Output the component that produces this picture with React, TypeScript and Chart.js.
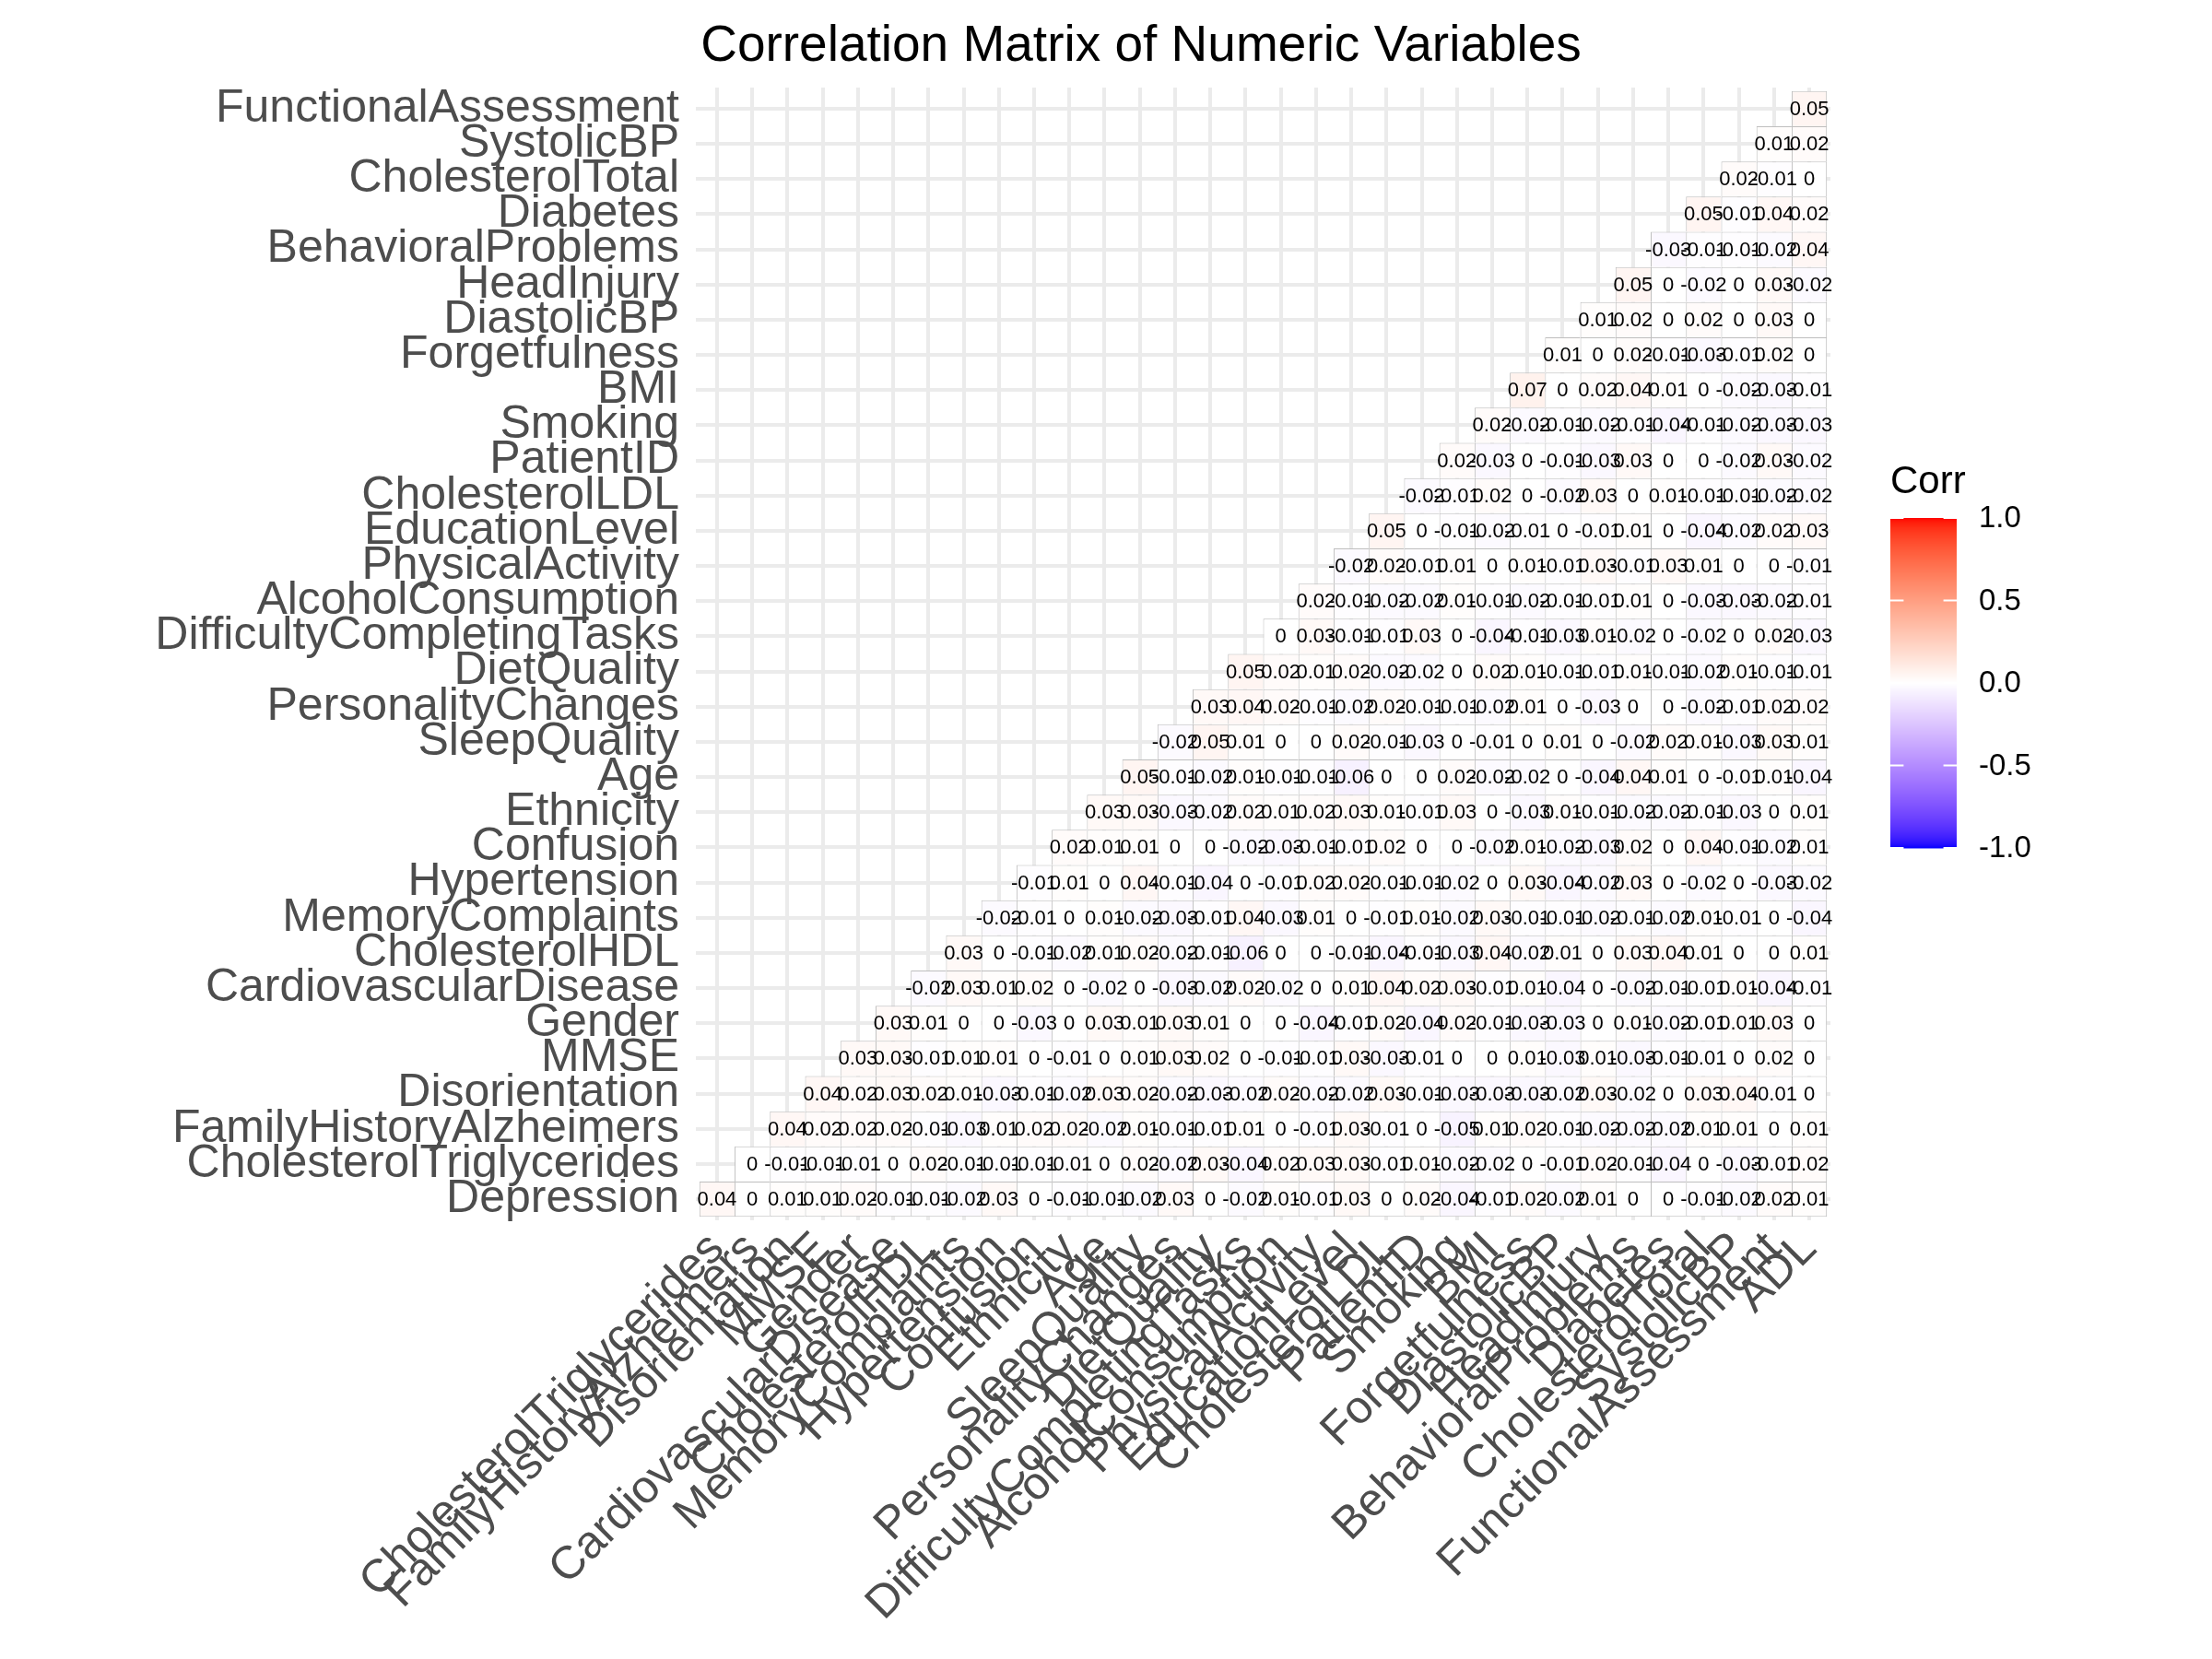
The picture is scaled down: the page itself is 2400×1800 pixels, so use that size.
import React, { useEffect, useRef } from "react";
import { Chart, registerables } from "chart.js";

Chart.register(...registerables);

const chartTitle = "Correlation Matrix of Numeric Variables";
const legendTitle = "Corr";

// y categories, bottom to top
const yLabels = [
  "Depression", "CholesterolTriglycerides", "FamilyHistoryAlzheimers", "Disorientation",
  "MMSE", "Gender", "CardiovascularDisease", "CholesterolHDL", "MemoryComplaints",
  "Hypertension", "Confusion", "Ethnicity", "Age", "SleepQuality", "PersonalityChanges",
  "DietQuality", "DifficultyCompletingTasks", "AlcoholConsumption", "PhysicalActivity",
  "EducationLevel", "CholesterolLDL", "PatientID", "Smoking", "BMI", "Forgetfulness",
  "DiastolicBP", "HeadInjury", "BehavioralProblems", "Diabetes", "CholesterolTotal",
  "SystolicBP", "FunctionalAssessment",
];

// x categories, left to right
const xLabels = [
  "CholesterolTriglycerides", "FamilyHistoryAlzheimers", "Disorientation", "MMSE", "Gender",
  "CardiovascularDisease", "CholesterolHDL", "MemoryComplaints", "Hypertension", "Confusion",
  "Ethnicity", "Age", "SleepQuality", "PersonalityChanges", "DietQuality",
  "DifficultyCompletingTasks", "AlcoholConsumption", "PhysicalActivity", "EducationLevel",
  "CholesterolLDL", "PatientID", "Smoking", "BMI", "Forgetfulness", "DiastolicBP",
  "HeadInjury", "BehavioralProblems", "Diabetes", "CholesterolTotal", "SystolicBP",
  "FunctionalAssessment", "ADL",
];

// each row starts at the x column with the same index as the row
const rowDepression = [0.04, 0, 0.01, 0.01, 0.02, -0.01, -0.01, -0.02, 0.03, 0, -0.01, -0.01, -0.02, 0.03, 0, -0.02, 0.01, -0.01, 0.03, 0, 0.02, -0.04, -0.01, 0.02, -0.02, 0.01, 0, 0, -0.01, -0.02, 0.02, 0.01];
const rowCholesterolTriglycerides = [0, -0.01, -0.01, -0.01, 0, 0.02, -0.01, -0.01, -0.01, -0.01, 0, 0.02, -0.02, 0.03, -0.04, 0.02, 0.03, 0.03, -0.01, 0.01, -0.02, -0.02, 0, -0.01, 0.02, -0.01, -0.04, 0, -0.03, -0.01, 0.02];
const rowFamilyHistoryAlzheimers = [0.04, 0.02, 0.02, 0.02, -0.01, -0.03, 0.01, 0.02, 0.02, -0.02, 0.01, -0.01, -0.01, 0.01, 0, -0.01, 0.03, -0.01, 0, -0.05, 0.01, 0.02, -0.01, -0.02, -0.02, -0.02, 0.01, 0.01, 0, 0.01];
const rowDisorientation = [0.04, 0.02, 0.03, 0.02, 0.01, -0.03, -0.01, -0.02, 0.03, 0.02, -0.02, -0.03, -0.02, 0.02, -0.02, -0.02, 0.03, -0.01, -0.03, -0.03, -0.03, -0.02, 0.03, -0.02, 0, 0.03, 0.04, -0.01, 0];
const rowMMSE = [0.03, 0.03, -0.01, 0.01, 0.01, 0, -0.01, 0, 0.01, 0.03, 0.02, 0, -0.01, -0.01, 0.03, -0.03, -0.01, 0, 0, 0.01, -0.03, 0.01, -0.03, -0.01, -0.01, 0, 0.02, 0];
const rowGender = [0.03, 0.01, 0, 0, -0.03, 0, 0.03, 0.01, 0.03, 0.01, 0, 0, -0.04, -0.01, 0.02, -0.04, 0.02, -0.01, -0.03, -0.03, 0, 0.01, -0.02, -0.01, 0.01, 0.03, 0];
const rowCardiovascularDisease = [-0.02, 0.03, 0.01, 0.02, 0, -0.02, 0, -0.03, -0.02, 0.02, -0.02, 0, 0.01, 0.04, 0.02, 0.03, -0.01, 0.01, -0.04, 0, -0.02, -0.01, -0.01, 0.01, -0.04, -0.01];
const rowCholesterolHDL = [0.03, 0, -0.01, -0.02, 0.01, 0.02, -0.02, -0.01, -0.06, 0, 0, -0.01, -0.04, -0.01, -0.03, 0.04, -0.02, 0.01, 0, 0.03, 0.04, 0.01, 0, 0, 0.01];
const rowMemoryComplaints = [-0.02, -0.01, 0, 0.01, -0.02, -0.03, -0.01, 0.04, -0.03, 0.01, 0, -0.01, 0.01, -0.02, 0.03, -0.01, -0.01, -0.02, -0.01, -0.02, 0.01, -0.01, 0, -0.04];
const rowHypertension = [-0.01, 0.01, 0, 0.04, -0.01, -0.04, 0, -0.01, 0.02, 0.02, -0.01, -0.01, -0.02, 0, 0.03, -0.04, -0.02, 0.03, 0, -0.02, 0, -0.03, -0.02];
const rowConfusion = [0.02, 0.01, 0.01, 0, 0, -0.02, -0.03, -0.01, -0.01, 0.02, 0, 0, -0.02, 0.01, -0.02, -0.03, 0.02, 0, 0.04, -0.01, -0.02, 0.01];
const rowEthnicity = [0.03, 0.03, -0.03, -0.02, 0.02, 0.01, 0.02, 0.03, 0.01, -0.01, 0.03, 0, -0.03, 0.01, -0.01, -0.02, -0.02, -0.01, -0.03, 0, 0.01];
const rowAge = [0.05, -0.01, -0.02, 0.01, -0.01, -0.01, -0.06, 0, 0, 0.02, -0.02, -0.02, 0, -0.04, 0.04, 0.01, 0, -0.01, 0.01, -0.04];
const rowSleepQuality = [-0.02, 0.05, 0.01, 0, 0, 0.02, -0.01, -0.03, 0, -0.01, 0, 0.01, 0, -0.02, 0.02, 0.01, -0.03, 0.03, 0.01];
const rowPersonalityChanges = [0.03, 0.04, 0.02, -0.01, -0.02, 0.02, -0.01, -0.01, -0.02, 0.01, 0, -0.03, 0, 0, -0.02, -0.01, 0.02, 0.02];
const rowDietQuality = [0.05, 0.02, 0.01, 0.02, -0.02, -0.02, 0, 0.02, 0.01, -0.01, -0.01, 0.01, -0.01, -0.02, 0.01, -0.01, -0.01];
const rowDifficultyCompletingTasks = [0, 0.03, -0.01, -0.01, 0.03, 0, -0.04, -0.01, -0.03, 0.01, -0.02, 0, -0.02, 0, 0.02, -0.03];
const rowAlcoholConsumption = [0.02, -0.01, -0.02, -0.02, 0.01, -0.01, -0.02, -0.01, -0.01, 0.01, 0, -0.03, -0.03, -0.02, -0.01];
const rowPhysicalActivity = [-0.02, 0.02, -0.01, 0.01, 0, 0.01, -0.01, 0.03, -0.01, 0.03, 0.01, 0, 0, -0.01];
const rowEducationLevel = [0.05, 0, -0.01, -0.02, -0.01, 0, -0.01, 0.01, 0, -0.04, -0.02, 0.02, 0.03];
const rowCholesterolLDL = [-0.02, -0.01, 0.02, 0, -0.02, 0.03, 0, 0.01, -0.01, -0.01, -0.02, -0.02];
const rowPatientID = [0.02, -0.03, 0, -0.01, -0.03, 0.03, 0, 0, -0.02, 0.03, -0.02];
const rowSmoking = [0.02, -0.02, -0.01, -0.02, -0.01, -0.04, -0.01, -0.02, -0.03, -0.03];
const rowBMI = [0.07, 0, 0.02, 0.04, 0.01, 0, -0.02, -0.03, -0.01];
const rowForgetfulness = [0.01, 0, 0.02, -0.01, -0.03, -0.01, 0.02, 0];
const rowDiastolicBP = [0.01, 0.02, 0, 0.02, 0, 0.03, 0];
const rowHeadInjury = [0.05, 0, -0.02, 0, 0.03, -0.02];
const rowBehavioralProblems = [-0.03, -0.01, -0.01, -0.02, 0.04];
const rowDiabetes = [0.05, -0.01, 0.04, 0.02];
const rowCholesterolTotal = [0.02, -0.01, 0];
const rowSystolicBP = [0.01, 0.02];
const rowFunctionalAssessment = [0.05];

const rowValues = [
  rowDepression, rowCholesterolTriglycerides, rowFamilyHistoryAlzheimers, rowDisorientation,
  rowMMSE, rowGender, rowCardiovascularDisease, rowCholesterolHDL, rowMemoryComplaints,
  rowHypertension, rowConfusion, rowEthnicity, rowAge, rowSleepQuality, rowPersonalityChanges,
  rowDietQuality, rowDifficultyCompletingTasks, rowAlcoholConsumption, rowPhysicalActivity,
  rowEducationLevel, rowCholesterolLDL, rowPatientID, rowSmoking, rowBMI, rowForgetfulness,
  rowDiastolicBP, rowHeadInjury, rowBehavioralProblems, rowDiabetes, rowCholesterolTotal,
  rowSystolicBP, rowFunctionalAssessment,
];

const legendValues = [1, 0.5, 0, -0.5, -1];
const legendLabels = ["1.0", "0.5", "0.0", "-0.5", "-1.0"];

// ---------- colour (ggplot gradient2 in Lab space) ----------
const LOW = [0, 0, 255];
const MID = [255, 255, 255];
const HIGH = [255, 0, 0];

function toLin(c: number) {
  c /= 255;
  return c <= 0.04045 ? c / 12.92 : Math.pow((c + 0.055) / 1.055, 2.4);
}
function fromLin(c: number) {
  const v = c <= 0.0031308 ? 12.92 * c : 1.055 * Math.pow(c, 1 / 2.4) - 0.055;
  return Math.round(Math.max(0, Math.min(1, v)) * 255);
}
const WX = 0.95047, WY = 1.0, WZ = 1.08883;
function rgbToLab(rgb: number[]) {
  const r = toLin(rgb[0]), g = toLin(rgb[1]), b = toLin(rgb[2]);
  const X = (0.4124564 * r + 0.3575761 * g + 0.1804375 * b) / WX;
  const Y = (0.2126729 * r + 0.7151522 * g + 0.072175 * b) / WY;
  const Z = (0.0193339 * r + 0.119192 * g + 0.9503041 * b) / WZ;
  const f = (t: number) => (t > 216 / 24389 ? Math.cbrt(t) : (24389 / 27 * t + 16) / 116);
  const fx = f(X), fy = f(Y), fz = f(Z);
  return [116 * fy - 16, 500 * (fx - fy), 200 * (fy - fz)];
}
function labToRgb(lab: number[]) {
  const fy = (lab[0] + 16) / 116;
  const fx = fy + lab[1] / 500;
  const fz = fy - lab[2] / 200;
  const inv = (t: number) => (t * t * t > 216 / 24389 ? t * t * t : (116 * t - 16) / (24389 / 27));
  const X = inv(fx) * WX, Y = inv(fy) * WY, Z = inv(fz) * WZ;
  const r = 3.2404542 * X - 1.5371385 * Y - 0.4985314 * Z;
  const g = -0.969266 * X + 1.8760108 * Y + 0.041556 * Z;
  const b = 0.0556434 * X - 0.2040259 * Y + 1.0572252 * Z;
  return `rgb(${fromLin(r)},${fromLin(g)},${fromLin(b)})`;
}
const labLow = rgbToLab(LOW), labMid = rgbToLab(MID), labHigh = rgbToLab(HIGH);
function fillFor(v: number) {
  const t = Math.max(-1, Math.min(1, v));
  const end = t < 0 ? labLow : labHigh;
  const f = Math.abs(t);
  return labToRgb(labMid.map((m, k) => m + (end[k] - m) * f));
}

const FONT = '"Liberation Sans", Arial, Helvetica, sans-serif';

export default function App() {
  const canvasRef = useRef<HTMLCanvasElement | null>(null);

  useEffect(() => {
    document.body.style.margin = "0";
    const canvas = canvasRef.current;
    if (!canvas) return;

    const points: any[] = [];
    rowValues.forEach((row, i) => {
      row.forEach((v, k) => {
        points.push({ x: i + k, y: [i - 0.5, i + 0.5], v, row: i });
      });
    });

    const cellLabels = {
      id: "cellLabels",
      afterDatasetsDraw(chart: any) {
        const ctx = chart.ctx;
        const meta = chart.getDatasetMeta(0);
        const data = chart.data.datasets[0].data;
        ctx.save();
        ctx.font = `22px ${FONT}`;
        ctx.fillStyle = "#000000";
        ctx.textAlign = "center";
        ctx.textBaseline = "middle";
        meta.data.forEach((el: any, idx: number) => {
          const p = el.getProps(["x", "y", "base"], true);
          ctx.fillText(String(data[idx].v), p.x, (p.y + p.base) / 2 + 1);
        });
        ctx.restore();
      },
    };

    const titleAndLegend = {
      id: "titleAndLegend",
      afterDraw(chart: any) {
        const ctx = chart.ctx;
        ctx.save();
        // title
        ctx.font = `55px ${FONT}`;
        ctx.fillStyle = "#000000";
        ctx.textAlign = "center";
        ctx.textBaseline = "alphabetic";
        ctx.fillText(chartTitle, 1238, 66);

        // colour bar legend
        const lx = 2051, ly = 562, lw = 72, lh = 358;
        ctx.font = `42px ${FONT}`;
        ctx.textAlign = "left";
        ctx.fillText(legendTitle, lx, 535);
        for (let k = 0; k < lh; k++) {
          const v = 1 - (2 * (k + 0.5)) / lh;
          ctx.fillStyle = fillFor(v);
          ctx.fillRect(lx, ly + k, lw, 1.5);
        }
        ctx.strokeStyle = "#FFFFFF";
        ctx.lineWidth = 2;
        ctx.font = `33px ${FONT}`;
        ctx.fillStyle = "#000000";
        ctx.textBaseline = "middle";
        legendValues.forEach((v, k) => {
          const y = ly + ((1 - v) / 2) * lh;
          ctx.beginPath();
          ctx.moveTo(lx, y);
          ctx.lineTo(lx + lw / 5, y);
          ctx.moveTo(lx + (lw * 4) / 5, y);
          ctx.lineTo(lx + lw, y);
          ctx.stroke();
          ctx.fillText(legendLabels[k], lx + 96, y + 1);
        });
        ctx.restore();
      },
    };

    const chart = new Chart(canvas, {
      type: "bar",
      data: {
        datasets: [
          {
            data: points,
            backgroundColor: (c: any) => (c.raw ? fillFor(c.raw.v) : "#fff"),
            borderColor: "#BEBEBE",
            borderWidth: (c: any) =>
              c.raw
                ? { top: 1, left: 1, right: c.raw.x === 31 ? 1 : 0, bottom: c.raw.row === 0 ? 1 : 0 }
                : 1,
            borderSkipped: false,
            grouped: false,
            barPercentage: 1,
            categoryPercentage: 1,
            inflateAmount: 0,
          } as any,
        ],
      },
      options: {
        animation: false,
        responsive: false,
        maintainAspectRatio: false,
        devicePixelRatio: 1,
        layout: { padding: { left: 0, right: 414, top: 95, bottom: 0 } },
        plugins: {
          legend: { display: false },
          tooltip: { enabled: false },
          title: { display: false },
        },
        scales: {
          x: {
            type: "linear",
            min: -0.6,
            max: 31.6,
            offset: false,
            afterBuildTicks: (axis: any) => {
              axis.ticks = xLabels.map((_, j) => ({ value: j }));
            },
            afterFit: (axis: any) => {
              axis.height = 476;
            },
            ticks: {
              autoSkip: false,
              minRotation: 45,
              maxRotation: 45,
              padding: 2,
              color: "#4D4D4D",
              font: { family: FONT, size: 50 },
              callback: (v: any) => xLabels[v],
            },
            grid: { color: "#EBEBEB", lineWidth: 4, drawTicks: false, offset: false },
            border: { display: false },
          },
          y: {
            type: "linear",
            min: -0.6,
            max: 31.6,
            afterBuildTicks: (axis: any) => {
              axis.ticks = yLabels.map((_, i) => ({ value: i }));
            },
            afterFit: (axis: any) => {
              axis.width = 755;
            },
            ticks: {
              autoSkip: false,
              padding: 18,
              color: "#4D4D4D",
              font: { family: FONT, size: 50 },
              callback: (v: any) => yLabels[v],
            },
            grid: { color: "#EBEBEB", lineWidth: 4, drawTicks: false },
            border: { display: false },
          },
        },
      } as any,
      plugins: [cellLabels, titleAndLegend],
    });

    return () => chart.destroy();
  }, []);

  return (
    <canvas
      ref={canvasRef}
      width={2400}
      height={1800}
      style={{ display: "block", width: "2400px", height: "1800px" }}
    />
  );
}
